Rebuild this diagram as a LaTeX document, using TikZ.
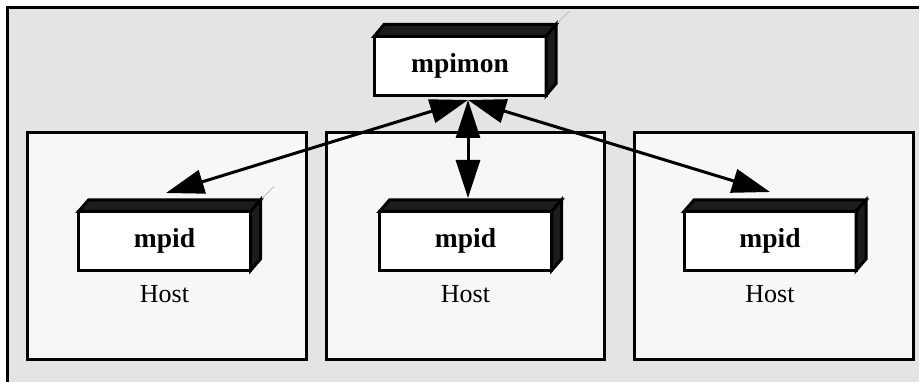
\documentclass[tikz,border=0pt]{standalone}
\usepackage{fontspec}
\setmainfont{Liberation Serif}
\usetikzlibrary{arrows.meta,calc}
\definecolor{bggray}{HTML}{E4E4E4}
\definecolor{hostfill}{HTML}{F7F7F7}
\definecolor{boxdark}{HTML}{1C1C1C}
\begin{document}
\begin{tikzpicture}[x=1pt,y=-1pt,
  hostbox/.style={draw=black,line width=3pt,fill=hostfill,minimum width=278.5pt,minimum height=226.5pt,inner sep=0pt,outer sep=0pt},
  procbox/.style={draw=black,line width=3pt,fill=white,minimum width=172pt,minimum height=59pt,inner sep=0pt,outer sep=0pt,font=\fontsize{27.5}{30}\selectfont\bfseries},
  hostlabel/.style={font=\fontsize{26}{30}\selectfont,anchor=base,inner sep=0pt},
  depthface/.style={fill=boxdark,draw=black,line width=3pt,line join=miter},
  link/.style={line width=3pt,{Triangle[length=38pt,width=24pt]}-{Triangle[length=38pt,width=24pt]}},
  glint/.style={draw=gray!50,line width=0.8pt}]
\clip (0,0) rectangle (919,382);
\useasboundingbox (0,0) rectangle (919,382);
\fill[white] (0,0) rectangle (919,382);
% outer frame (extends beyond the right and bottom edges)
\node[draw=black,line width=3pt,fill=bggray,inner sep=0pt,outer sep=0pt,
      minimum width=940pt,minimum height=400pt,anchor=north west] (frame) at (7.5,7.5) {};
% host boxes
\node[hostbox] (h1) at (166.75,246.25) {};
\node[hostbox] (h2) at (465.25,246.25) {};
\node[hostbox] (h3) at (773.75,246.25) {};
% processes
\node[procbox] (mon) at (460,66) {mpimon};
\node[procbox] (d1) at (164.5,241) {mpid};
\node[procbox] (d2) at (465.5,241) {mpid};
\node[procbox] (d3) at (770,241) {mpid};
% 3D depth faces
\foreach \n/\dx/\dy in {mon/10/-12,d1/10/-11.5,d2/10/-11.5,d3/10/-11.5} {
  \filldraw[depthface] (\n.north west) -- ++(\dx,\dy) -- ($(\n.north east)+(\dx,\dy)$) -- (\n.north east) -- cycle;
  \filldraw[depthface] (\n.north east) -- ++(\dx,\dy) -- ($(\n.south east)+(\dx,\dy)$) -- (\n.south east) -- cycle;
}
\draw[glint] ($(mon.north east)+(11.5,-13.5)$) -- ++(12,-12);
\draw[glint] ($(d1.north east)+(11.5,-13)$) -- ++(12,-12);
% host labels
\node[hostlabel] (l1) at (164.5,303) {Host};
\node[hostlabel] (l2) at (465.5,303) {Host};
\node[hostlabel] (l3) at (770,303) {Host};
% ports
\coordinate (monport) at ($(mon.south)+(8,4.5)$);
\coordinate (p1) at ($(d1.north)+(1.5,-18.5)$);
\coordinate (p2) at ($(d2.north)+(2.5,-13.5)$);
\coordinate (p3) at ($(d3.north)+(0,-19.5)$);
% connectors
\draw[link] (monport) -- (p1);
\draw[link] (monport) -- (p2);
\draw[link] (monport) -- (p3);
\end{tikzpicture}
\end{document}
